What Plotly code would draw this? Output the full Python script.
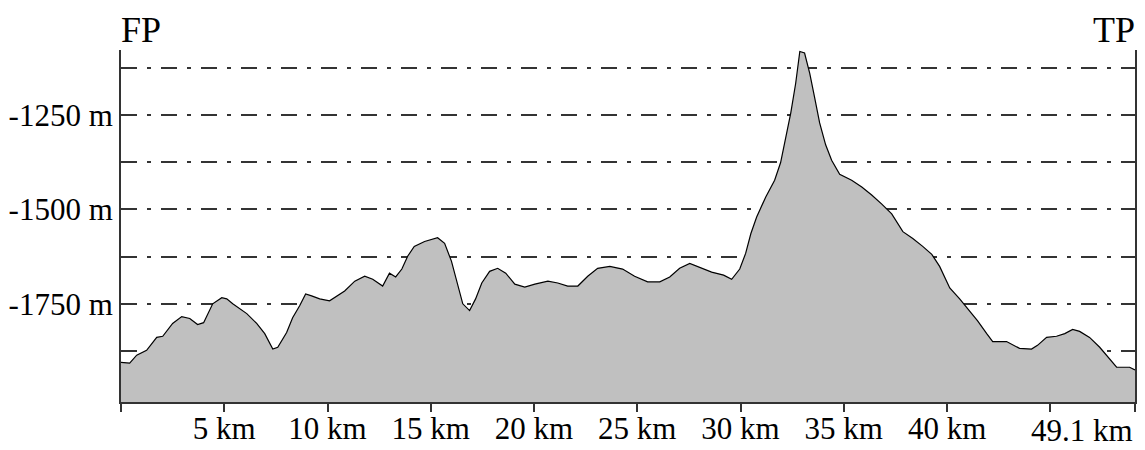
import plotly.graph_objects as go

# Distance along route (km) and elevation (m)
distance_km = [0, 0.42, 0.76, 1.24, 1.73, 2.02, 2.5, 2.94, 3.33, 3.71, 4.0, 4.44, 4.88, 5.12, 5.41,
               6.09, 6.57, 6.96, 7.35, 7.59, 8.02, 8.31, 8.65, 8.94, 9.23, 9.62, 10.1, 10.83, 11.32,
               11.8, 12.19, 12.67, 13.0, 13.3, 13.6, 13.88, 14.2, 14.7, 15.33, 15.67, 16.0, 16.3,
               16.55, 16.88, 17.17, 17.47, 17.85, 18.24, 18.63, 19.07, 19.55, 20.04, 20.67, 21.15,
               21.63, 22.12, 22.6, 23.08, 23.67, 24.29, 24.87, 25.5, 26.09, 26.57, 27.05, 27.54,
               28.02, 28.6, 29.18, 29.57, 29.96, 30.25, 30.5, 30.78, 31.22, 31.65, 31.94, 32.19,
               32.43, 32.67, 32.87, 33.1, 33.35, 33.59, 33.83, 34.12, 34.41, 34.8, 35.38, 35.87,
               36.35, 36.84, 37.32, 37.86, 38.34, 38.82, 39.26, 39.64, 40.13, 40.61, 41.09, 41.48,
               41.92, 42.21, 42.88, 43.51, 44.09, 44.38, 44.82, 45.3, 45.7, 46.08, 46.42, 46.9,
               47.39, 47.78, 48.21, 48.84, 49.1]
elevation_m = [-1905, -1907, -1886, -1873, -1839, -1836, -1802, -1784, -1789, -1805, -1800, -1750,
               -1734, -1737, -1750, -1776, -1802, -1829, -1870, -1865, -1826, -1787, -1755, -1724,
               -1729, -1737, -1742, -1716, -1690, -1677, -1685, -1703, -1669, -1679, -1658, -1624,
               -1598, -1585, -1575, -1590, -1637, -1703, -1750, -1768, -1737, -1695, -1664, -1656,
               -1669, -1698, -1706, -1698, -1690, -1695, -1703, -1703, -1677, -1656, -1651, -1658,
               -1677, -1692, -1692, -1679, -1656, -1643, -1653, -1666, -1674, -1685, -1658, -1616,
               -1564, -1520, -1467, -1423, -1376, -1310, -1245, -1166, -1082, -1086, -1140, -1205,
               -1271, -1329, -1370, -1407, -1423, -1441, -1462, -1486, -1512, -1559, -1577, -1598,
               -1619, -1651, -1708, -1737, -1768, -1795, -1829, -1850, -1850, -1868, -1870, -1860,
               -1839, -1836, -1829, -1818, -1823, -1839, -1865, -1891, -1918, -1918, -1925]

x_tickvals = [0, 5, 10, 15, 20, 25, 30, 35, 40, 45, 49.1]
x_ticktext = ["", "5 km", "10 km", "15 km", "20 km", "25 km", "30 km", "35 km", "40 km", "", ""]
end_label = "49.1 km"

y_tickvals = [-1875, -1750, -1625, -1500, -1375, -1250, -1125]
y_ticktext = ["", "-1750 m", "", "-1500 m", "", "-1250 m", ""]

start_label = "FP"
end_point_label = "TP"

Y_MIN, Y_MAX = -2010, -1078
X_MAX = 49.1

FONT = "Liberation Serif, Times New Roman, serif"

fig = go.Figure()
fig.add_trace(go.Scatter(x=distance_km, y=[Y_MIN] * len(distance_km), mode="lines",
                         line=dict(width=0), hoverinfo="skip", showlegend=False))
fig.add_trace(go.Scatter(x=distance_km, y=elevation_m, mode="lines",
                         line=dict(color="black", width=1.2),
                         fill="tonexty", fillcolor="#c0c0c0", showlegend=False))

# page body has an 8px margin, so the figure is offset by 8px right and down
fig.update_layout(
    width=1145, height=450,
    margin=dict(l=113, r=18, t=42, b=56, autoexpand=False),
    paper_bgcolor="white", plot_bgcolor="white",
    font=dict(family=FONT, size=31, color="black"),
    showlegend=False,
)
fig.update_xaxes(
    range=[0, X_MAX], tickvals=x_tickvals, ticktext=x_ticktext,
    showgrid=False, zeroline=False, automargin=False,
    showline=True, linecolor="#333", linewidth=2,
    ticks="outside", ticklen=8, tickwidth=2, tickcolor="#333",
    ticklabelstandoff=-10,
    tickfont=dict(family=FONT, size=31, color="black"),
)
fig.update_yaxes(
    range=[Y_MIN, Y_MAX], tickvals=y_tickvals, ticktext=y_ticktext,
    showgrid=True, gridcolor="#333", gridwidth=1.6, griddash="16px,10px,4px,10px",
    zeroline=False, automargin=False,
    showline=True, linecolor="#333", linewidth=2, mirror=True,
    ticks="", ticklabelstandoff=0,
    tickfont=dict(family=FONT, size=31, color="black"),
)

fig.add_annotation(x=X_MAX, xref="x", y=0, yref="paper", yanchor="top", xanchor="right",
                   text=end_label, showarrow=False, yshift=-9,
                   font=dict(family=FONT, size=31, color="black"))
fig.add_annotation(x=0, xref="paper", y=1, yref="paper", xanchor="left", yanchor="bottom",
                   text=start_label, showarrow=False, xshift=-2, yshift=-2,
                   font=dict(family=FONT, size=36, color="black"))
fig.add_annotation(x=1, xref="paper", y=1, yref="paper", xanchor="right", yanchor="bottom",
                   text=end_point_label, showarrow=False, xshift=2, yshift=-2,
                   font=dict(family=FONT, size=36, color="black"))

fig.write_html("out.html")
